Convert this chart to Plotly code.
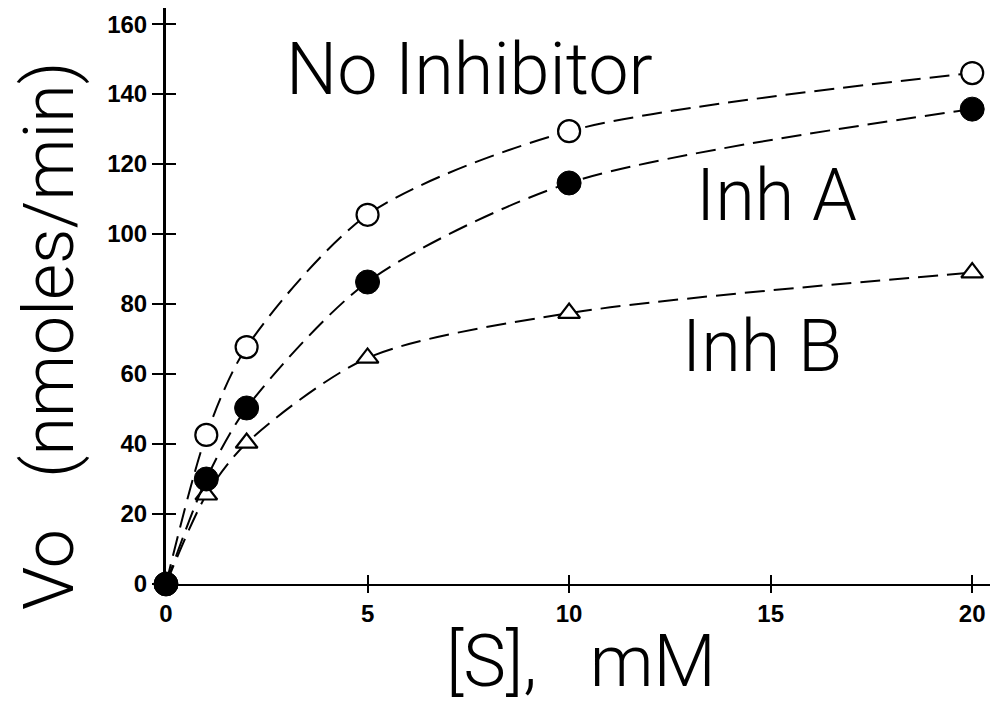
import plotly.graph_objects as go

# Data
S_mM = [0, 1, 2, 5, 10, 20]
no_inhibitor = [0, 42.6, 67.7, 105.5, 129.4, 146]
inh_A = [0, 30, 50.3, 86.3, 114.6, 135.7]
inh_B = [0, 25.5, 40.3, 64.6, 77.4, 89]

x_ticks = [0, 5, 10, 15, 20]
y_ticks = [0, 20, 40, 60, 80, 100, 120, 140, 160]

OFF = 8  # default page body margin
W, H = 990, 696
L, R, T, B = 158, 0, 0, 120
x_range = [0, 20.64]
y_range = [0, 164.6]

def px(xp):  # page pixel -> paper
    return (xp - OFF - L) / (W - L - R)

def py(yp):
    return (H - B - (yp - OFF)) / (H - T - B)

LINE = dict(color="black", width=2, dash="20px,9px", shape="spline", smoothing=0.8)

fig = go.Figure()
fig.add_trace(go.Scatter(x=S_mM, y=inh_B, mode="lines+markers", name="Inh B",
                         line=LINE, cliponaxis=False,
                         marker=dict(symbol="triangle-up", size=19, color="white",
                                     line=dict(color="black", width=2.2))))
fig.add_trace(go.Scatter(x=S_mM, y=no_inhibitor, mode="lines+markers", name="No Inhibitor",
                         line=LINE, cliponaxis=False,
                         marker=dict(symbol="circle", size=22, color="white",
                                     line=dict(color="black", width=2.2))))
fig.add_trace(go.Scatter(x=S_mM, y=inh_A, mode="lines+markers", name="Inh A",
                         line=LINE, cliponaxis=False,
                         marker=dict(symbol="circle", size=24, color="black",
                                     line=dict(color="black", width=1))))
# helper trace so the overlay axes (inward tick halves) are drawn
fig.add_trace(go.Scatter(x=[], y=[], xaxis="x2", yaxis="y2", showlegend=False))

tickfont = dict(family="Liberation Sans, Arial, sans-serif", size=24, color="black", weight="bold")

fig.update_layout(
    width=W, height=H,
    margin=dict(l=L, r=R, t=T, b=B),
    plot_bgcolor="white", paper_bgcolor="white",
    showlegend=False,
    xaxis=dict(range=x_range, tickvals=x_ticks, ticktext=[str(v) for v in x_ticks],
               showgrid=False, zeroline=False, showline=True, linecolor="black", linewidth=2,
               ticks="outside", ticklen=7, tickwidth=2, tickcolor="black",
               tickfont=tickfont),
    yaxis=dict(range=y_range, tickvals=y_ticks, ticktext=[str(v) for v in y_ticks],
               showgrid=False, zeroline=False, showline=True, linecolor="black", linewidth=3,
               ticks="outside", ticklen=11, tickwidth=2, tickcolor="black",
               tickfont=tickfont),
    xaxis2=dict(range=x_range, overlaying="x", tickvals=x_ticks, showticklabels=False,
                showgrid=False, zeroline=False, showline=False,
                ticks="inside", ticklen=9, tickwidth=2, tickcolor="black", side="bottom"),
    yaxis2=dict(range=y_range, overlaying="y", tickvals=y_ticks, showticklabels=False,
                showgrid=False, zeroline=False, showline=False,
                ticks="inside", ticklen=10, tickwidth=2, tickcolor="black", side="left"),
)

label_font = dict(family="Roboto, Inter, Liberation Sans, sans-serif", size=72, color="black", weight=300)

ann = [
    dict(text="No Inhibitor", x=px(469), y=py(69)),
    dict(text="Inh A", x=px(776), y=py(195)),
    dict(text="Inh B", x=px(762), y=py(346)),
    dict(text="[S],\u00a0\u00a0\u00a0mM", x=px(581), y=py(661)),
]
for a in ann:
    fig.add_annotation(xref="paper", yref="paper", showarrow=False,
                       xanchor="center", yanchor="middle", font=label_font, **a)

fig.add_annotation(xref="paper", yref="paper", showarrow=False, textangle=-90,
                   text="Vo\u00a0\u00a0\u00a0(nmoles/min)", x=px(49), y=py(336),
                   xanchor="center", yanchor="middle",
                   font=dict(label_font, size=70))

fig.write_html("out.html")
